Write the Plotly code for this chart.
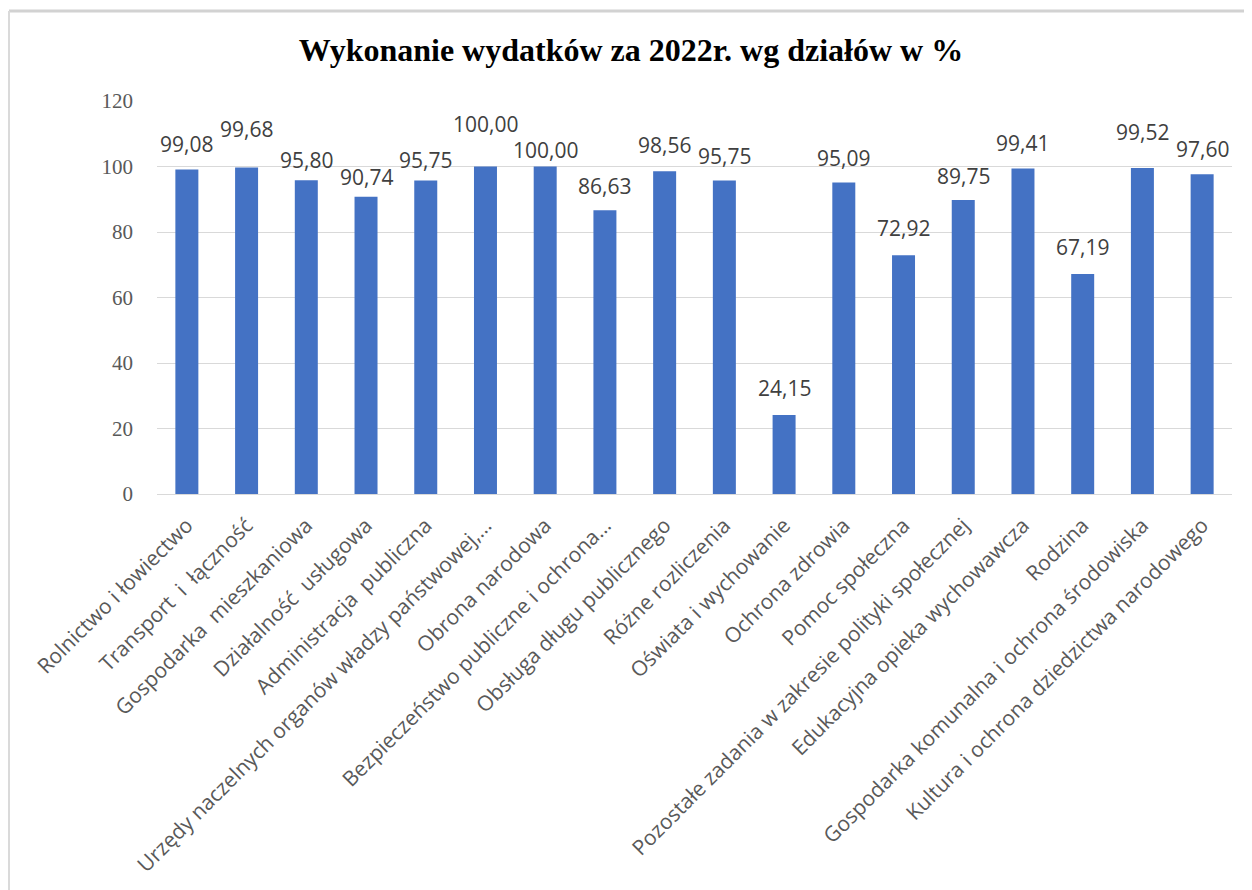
import plotly.graph_objects as go

categories = [
    "Rolnictwo i łowiectwo",
    "Transport \u00a0i \u00a0łączność",
    "Gospodarka \u00a0mieszkaniowa",
    "Działalność \u00a0usługowa",
    "Administracja \u00a0publiczna",
    "Urzędy naczelnych organów władzy państwowej,…",
    "Obrona narodowa",
    "Bezpieczeństwo publiczne i ochrona…",
    "Obsługa długu publicznego",
    "Różne rozliczenia",
    "Oświata i wychowanie",
    "Ochrona zdrowia",
    "Pomoc społeczna",
    "Pozostałe zadania w zakresie polityki społecznej",
    "Edukacyjna opieka wychowawcza",
    "Rodzina",
    "Gospodarka komunalna i ochrona środowiska",
    "Kultura i ochrona dziedzictwa narodowego",
]
values = [99.08, 99.68, 95.80, 90.74, 95.75, 100.00, 100.00, 86.63, 98.56,
          95.75, 24.15, 95.09, 72.92, 89.75, 99.41, 67.19, 99.52, 97.60]
value_labels = ["99,08", "99,68", "95,80", "90,74", "95,75", "100,00", "100,00",
                "86,63", "98,56", "95,75", "24,15", "95,09", "72,92", "89,75",
                "99,41", "67,19", "99,52", "97,60"]
y_ticks = [0, 20, 40, 60, 80, 100, 120]

# vertical lift of each data label above its bar (pixels)
label_lift = [26, 39, 20, 20, 20, 43, 17, 24, 26, 24, 27, 25, 27, 24, 25, 27, 36, 25]

fig = go.Figure()
fig.add_trace(go.Bar(
    x=categories, y=values,
    marker=dict(color="#4472C4", line=dict(width=0)),
    hoverinfo="x+y",
))

annotations = []
for c, v, t, lift in zip(categories, values, value_labels, label_lift):
    annotations.append(dict(
        x=c, y=v, xref="x", yref="y", text=t, showarrow=False,
        yanchor="middle", xanchor="center", yshift=lift,
        font=dict(family="Open Sans", size=21, color="#404040"),
    ))

# frame (page coords -> paper coords of the plot area: x 157..1232, y 494..101)
def px(xp):
    return (xp - 157) / 1075

def py(yp):
    return (494 - yp) / 393

fig.update_layout(
    width=1252, height=890,
    margin=dict(l=149, r=28, t=93, b=404),
    paper_bgcolor="white", plot_bgcolor="white",
    bargap=0.615,
    showlegend=False,
    title=dict(
        text="<b>Wykonanie wydatków za 2022r. wg działów w %</b>",
        x=0.4976, xanchor="center", y=0.953, yanchor="middle",
        font=dict(family="Liberation Serif", size=32, color="#000000"),
    ),
    annotations=annotations,
    shapes=[
        dict(type="line", xref="paper", yref="paper",
             x0=px(9), x1=px(1262), y0=py(11), y1=py(11),
             line=dict(color="#d2d2d2", width=3), layer="below"),
        dict(type="line", xref="paper", yref="paper",
             x0=px(9), x1=px(9), y0=py(11), y1=py(900),
             line=dict(color="#dadada", width=2), layer="below"),
    ],
    xaxis=dict(
        tickangle=-45,
        tickfont=dict(family="Open Sans", size=21, color="#595959"),
        showgrid=False, showline=False, ticks="", ticklabelstandoff=14,
    ),
    yaxis=dict(
        range=[0, 120], tickvals=y_ticks,
        tickfont=dict(family="Liberation Serif", size=21, color="#595959"),
        showgrid=True, gridcolor="#d9d9d9", gridwidth=1,
        zeroline=True, zerolinecolor="#d9d9d9", zerolinewidth=1,
        showline=False, ticks="", ticklabelstandoff=23,
    ),
)

fig.write_html("out.html")
